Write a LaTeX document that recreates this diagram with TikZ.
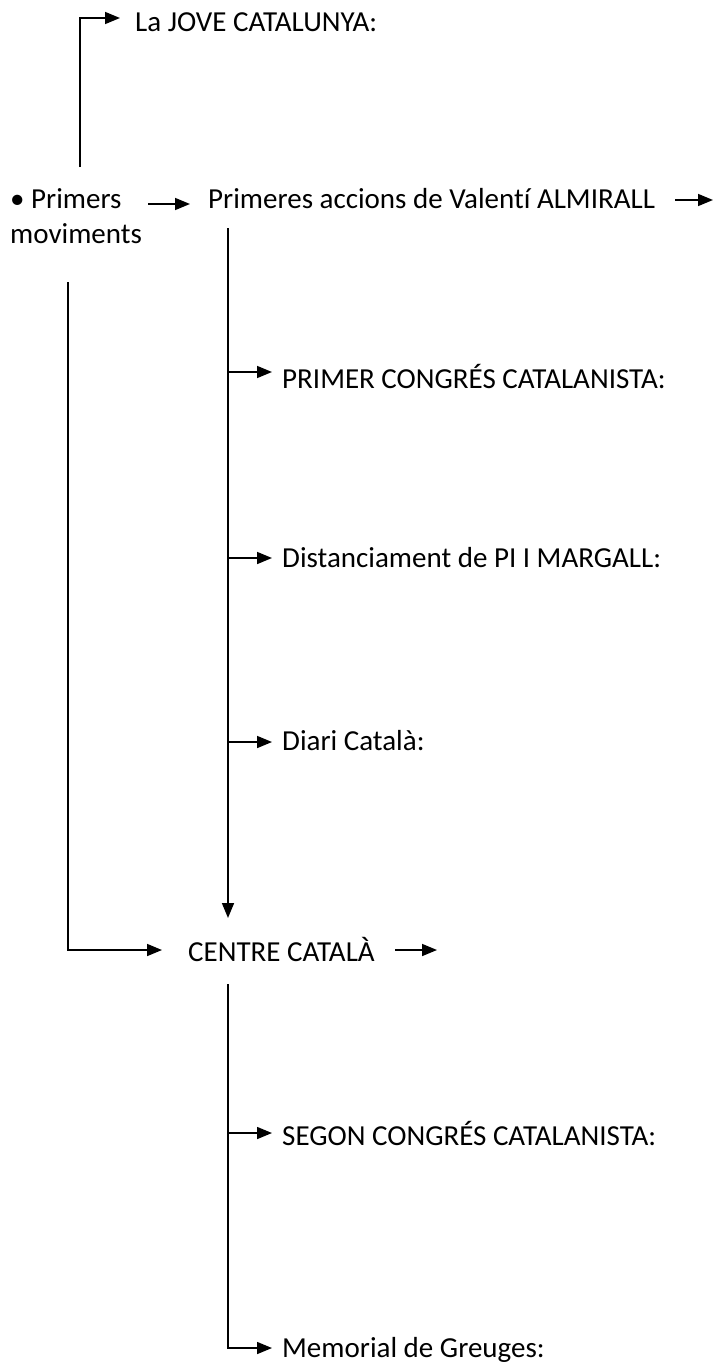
\documentclass[tikz,border=0pt]{standalone}
\usepackage{fontspec}
\setmainfont{Carlito}[Ligatures={NoCommon}]
\usetikzlibrary{arrows.meta}
\begin{document}
\begin{tikzpicture}[x=1pt,y=-1pt,
  txt/.style={font=\fontsize{29}{35}\selectfont, inner sep=0pt},
  lbl/.style={txt, text height=20pt, text depth=0pt, anchor=west},
  conn/.style={line width=1.6pt, black},
  arr/.style={conn, -{Triangle[length=15pt,width=12pt]}}]
\useasboundingbox (0,0) rectangle (719,1365);
% nodes
\node[lbl] (jove) at (135,21) {La JOVE CATALUNYA:};
\node[txt, align=left, anchor=base west] (primers) at (10,243) {• Primers\\moviments};
\node[lbl] (primeres) at (208,198) {Primeres accions de Valentí ALMIRALL};
\node[lbl] (primer) at (282,378) {PRIMER CONGRÉS CATALANISTA:};
\node[lbl] (distan) at (282,557) {Distanciament de PI I MARGALL:};
\node[lbl] (diari) at (282,740) {Diari Català:};
\node[lbl] (centre) at (188,951) {CENTRE CATALÀ};
\node[lbl] (segon) at (282,1135) {SEGON CONGRÉS CATALANISTA:};
\node[lbl] (memorial) at (282,1347) {Memorial de Greuges:};
% free ends
\coordinate (jstart) at (80,167);
\coordinate (jtip) at (120,18);
\coordinate (pa) at (148,204);
\coordinate (pb) at (190,204);
\coordinate (ra) at (675,200);
\coordinate (rb) at (713,200);
\coordinate (v1top) at (228,228);
\coordinate (v1tip) at (228,918);
\coordinate (ltop) at (68,282);
\coordinate (ltip) at (162,950);
\coordinate (ca) at (395,950);
\coordinate (cb) at (437,950);
\coordinate (v2top) at (228,984);
% connectors
\draw[arr] (jstart) |- (jtip);
\draw[arr] (pa) -- (pb);
\draw[arr] (ra) -- (rb);
\draw[arr] (v1top) -- (v1tip);
\draw[arr] (v1top |- 0,372) -- (272,372);
\draw[arr] (v1top |- 0,558) -- (272,558);
\draw[arr] (v1top |- 0,742) -- (272,742);
\draw[arr] (ltop) |- (ltip);
\draw[arr] (ca) -- (cb);
\draw[arr] (v2top) |- (272,1348);
\draw[arr] (v2top |- 0,1133) -- (272,1133);
\end{tikzpicture}
\end{document}
